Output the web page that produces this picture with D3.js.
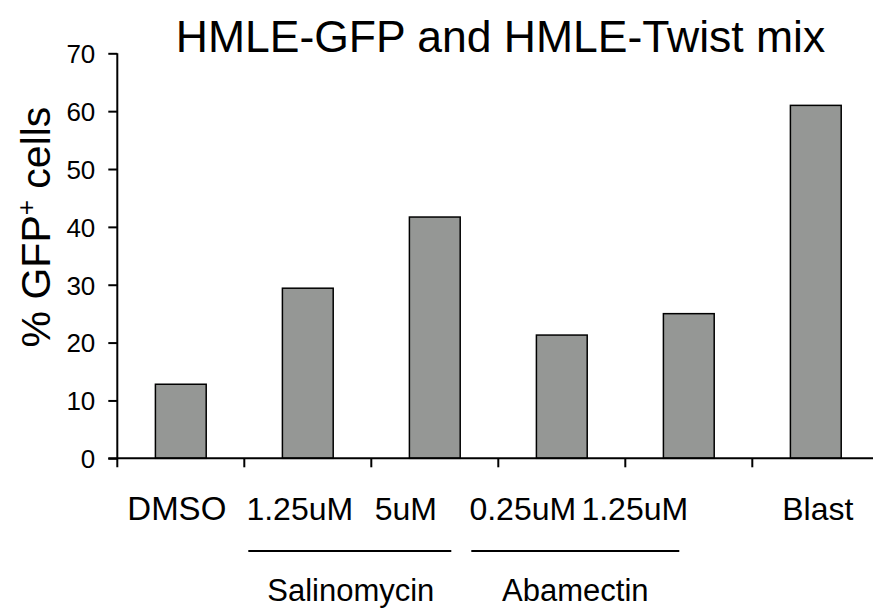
<!DOCTYPE html>
<html>
<head>
<meta charset="utf-8">
<script src="https://cdn.jsdelivr.net/npm/d3@7"></script>
<style>
  html, body { margin: 0; padding: 0; background: #fff; }
  svg { display: block; font-family: "Liberation Sans", Arial, sans-serif; }
</style>
</head>
<body>
<svg id="chart" width="873" height="612"></svg>
<script>
// ---- data ----
const categories = ["DMSO", "Sal 1.25uM", "Sal 5uM", "Aba 0.25uM", "Aba 1.25uM", "Blast"];
const tickLabels = ["DMSO", "1.25uM", "5uM", "0.25uM", "1.25uM", "Blast"];
const values = [12.8, 29.4, 41.7, 21.3, 25.0, 61.0];
const yTicks = [0, 10, 20, 30, 40, 50, 60, 70];
const groupNames = ["Salinomycin", "Abamectin"];
const groupMembers = [[1, 2], [3, 4]];
const title = "HMLE-GFP and HMLE-Twist mix";

// ---- layout ----
const svg = d3.select("#chart");
const x0 = 117.3, y0 = 458.3, yTop = 53.3, step = 127;
const x = d3.scaleBand().domain(categories)
  .range([x0, x0 + step * categories.length])
  .paddingInner(0.6).paddingOuter(0.3);
const y = d3.scaleLinear().domain([0, 70]).range([y0, yTop]);
const labelShift = [-4, -8, -29, -39, -54, 2];
const groupLineShift = [[4, -47], [-27, -73]];
const gap = () => (x.step() - x.bandwidth()) / 2;

// bars
svg.append("g").selectAll("rect").data(values).join("rect")
  .attr("x", (d, i) => x(categories[i]))
  .attr("y", d => y(d))
  .attr("width", x.bandwidth())
  .attr("height", d => y(0) - y(d))
  .attr("fill", "#959795")
  .attr("stroke", "#000")
  .attr("stroke-width", 1.5);

// y axis
const yAxis = svg.append("g").attr("transform", `translate(${x0},0)`)
  .call(d3.axisLeft(y).tickValues(yTicks).tickSize(9).tickSizeOuter(0).tickPadding(13));
yAxis.select(".domain").remove();
yAxis.append("line").attr("x1", 0).attr("x2", 0).attr("y1", yTop).attr("y2", y0 + 9)
  .attr("stroke", "#000").attr("stroke-width", 2);
yAxis.selectAll(".tick line").attr("stroke", "#000").attr("stroke-width", 2);
yAxis.selectAll(".tick text").attr("font-size", 26).attr("fill", "#000")
  .attr("font-family", "Liberation Sans, Arial, sans-serif").attr("dy", "0.36em");

// x axis line
svg.append("line").attr("x1", x0 - 9).attr("x2", 873).attr("y1", y0).attr("y2", y0)
  .attr("stroke", "#000").attr("stroke-width", 2);
// x ticks at category boundaries
svg.append("g").selectAll("line").data(categories.slice(1)).join("line")
  .attr("x1", c => x(c) - gap())
  .attr("x2", c => x(c) - gap())
  .attr("y1", y0).attr("y2", y0 + 9)
  .attr("stroke", "#000").attr("stroke-width", 2);

// tick labels
svg.append("g").selectAll("text").data(tickLabels).join("text")
  .attr("x", (d, i) => x(categories[i]) + x.bandwidth() / 2 + labelShift[i])
  .attr("y", 520)
  .attr("text-anchor", "middle")
  .attr("font-size", (d, i) => i === 0 ? 33 : 32)
  .attr("fill", "#000")
  .text(d => d);

// group lines and labels
groupNames.forEach((g, gi) => {
  const m = groupMembers[gi];
  const left = x(categories[m[0]]) - gap() + groupLineShift[gi][0];
  const right = x(categories[m[m.length - 1]]) + x.bandwidth() + gap() + groupLineShift[gi][1];
  svg.append("line").attr("x1", left).attr("x2", right).attr("y1", 551).attr("y2", 551)
    .attr("stroke", "#000").attr("stroke-width", 2);
  svg.append("text").attr("x", (left + right) / 2 + (gi === 0 ? 1 : 0)).attr("y", 601)
    .attr("text-anchor", "middle").attr("font-size", 31).attr("fill", "#000").text(g);
});

// title
svg.append("text").attr("x", 500.5).attr("y", 51.7).attr("text-anchor", "middle")
  .attr("font-size", 44.5).attr("fill", "#000").text(title);

// y label
const yl = svg.append("text")
  .attr("transform", "translate(50,227) rotate(-90)")
  .attr("text-anchor", "middle").attr("font-size", 41).attr("fill", "#000");
yl.append("tspan").text("% GFP");
yl.append("tspan").attr("font-size", 26).attr("dy", -15).text("+");
yl.append("tspan").attr("dy", 15).text(" cells");
</script>
</body>
</html>
